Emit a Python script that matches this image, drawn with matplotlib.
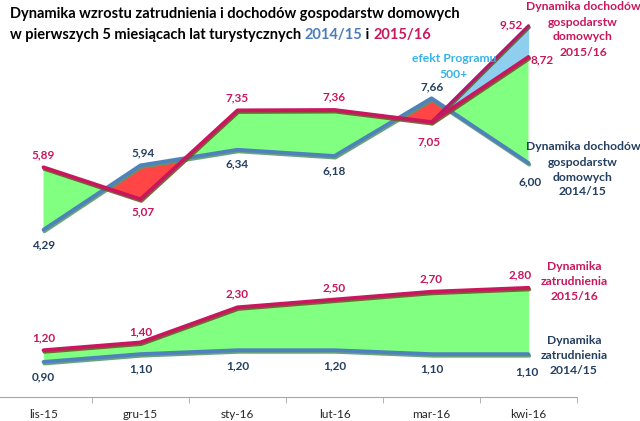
import matplotlib.pyplot as plt
import matplotlib.patheffects as pe
import numpy as np

plt.rcParams['font.family'] = ['Lato', 'DejaVu Sans']

# Data
months = ['lis-15', 'gru-15', 'sty-16', 'lut-16', 'mar-16', 'kwi-16']
income_1516 = [5.89, 5.07, 7.35, 7.36, 7.05, 8.72]
income_1415 = [4.29, 5.94, 6.34, 6.18, 7.66, 6.00]
income_500 = [7.05, 9.52]          # mar-16, kwi-16 incl. "500+" effect
empl_1516 = [1.20, 1.40, 2.30, 2.50, 2.70, 2.80]
empl_1415 = [0.90, 1.10, 1.20, 1.20, 1.10, 1.10]

# Colours
RED = '#c8175d'
PURPLE = '#b01a6e'
BLUE = '#4f81bd'
NAVY = '#243f60'
GREEN_FILL = '#80ff80'
RED_FILL = '#ff4545'
SKY_FILL = '#8ecff0'
SKY_TEXT = '#37b3e6'

fig = plt.figure(figsize=(6.4, 4.21), dpi=100)
ax = fig.add_axes([-5 / 640, 24 / 421, 582 / 640, 396 / 421])
ax.set_xlim(-0.5, 5.5)
ax.set_ylim(0, 396 / 39)

x = np.arange(len(months))
r = np.array(income_1516)
b = np.array(income_1415)

# fills
ax.fill_between(x, b, r, where=r >= b, interpolate=True, color=GREEN_FILL, lw=0)
ax.fill_between(x, b, r, where=r <= b, interpolate=True, color=RED_FILL, lw=0)
ax.fill_between(x[4:], r[4:], income_500, color=SKY_FILL, lw=0)
ax.fill_between(x, empl_1415, empl_1516, color=GREEN_FILL, lw=0)

red_fx = [pe.SimpleLineShadow(offset=(0.6, -1.2), shadow_color='#6b5a2a', alpha=0.9), pe.Normal()]
blue_fx = [pe.SimpleLineShadow(offset=(0.6, -1.2), shadow_color='#5a9a6a', alpha=0.9), pe.Normal()]

line_kw = dict(lw=2.7, solid_capstyle='round', solid_joinstyle='round')
ax.plot(x, income_1415, color=BLUE, path_effects=blue_fx, **line_kw)
ax.plot(x, empl_1415, color=BLUE, path_effects=blue_fx, **line_kw)
ax.plot(x[4:], income_500, color=PURPLE, lw=2.2, solid_capstyle='round', path_effects=red_fx)
ax.plot(x, income_1516, color=RED, path_effects=red_fx, **line_kw)
ax.plot(x, empl_1516, color=RED, path_effects=red_fx, **line_kw)


def fmt(v):
    return f'{v:.2f}'.replace('.', ',')


def label(xs, vals, offsets, color, ha='center'):
    for xi, v, (dx, dy) in zip(xs, vals, offsets):
        ax.annotate(fmt(v), (xi, v), xytext=(dx, dy), textcoords='offset pixels',
                    ha=ha, va='center', color=color, fontsize=8.5, fontweight='bold')


# value labels (pixel offsets)
label(x[:5], income_1516[:5], [(0, 12), (2, -13), (0, 13), (0, 13), (-2, -20)], RED)
label(x[5:], income_1516[5:], [(2, -3)], RED, ha='left')
label(x[5:], income_500[1:], [(-6, 1)], RED, ha='right')
label(x, income_1415, [(0, -15), (3, 12), (0, -14), (0, -15), (1, 11), (2, -19)], NAVY)
label(x, empl_1516, [(0, 12), (0, 11), (0, 13), (0, 12), (0, 13), (-8, 13)], RED)
label(x, empl_1415, [(0, -15), (0, -15), (0, -16), (0, -16), (0, -15), (-2, -18)], NAVY)

# axis styling
for s in ['left', 'top', 'right']:
    ax.spines[s].set_visible(False)
ax.spines['bottom'].set_color('#a6a6a6')
ax.set_yticks([])
ax.set_xticks(x)
ax.set_xticklabels(months, fontsize=8.5, color='#262626')
ax.set_xticks(np.arange(-0.5, 6, 1), minor=True)
ax.tick_params(axis='x', which='major', length=0, pad=9)
ax.tick_params(axis='x', which='minor', length=4, color='#a6a6a6')


def ftext(px, py, s, **kw):
    return fig.text(px / 640, 1 - py / 421, s, **kw)


def block(px, py, lines, color, step=15, size=8.7):
    # one text per line, centred, 'py' = centre of first line
    for i, s in enumerate(lines):
        ftext(px, py + i * step, s, ha='center', va='center', fontsize=size,
              fontweight='bold', color=color)


# series annotations
block(583, 7, ['Dynamika dochodów', 'gospodarstw', 'domowych', '2015/16'], RED)
block(454, 59, ['efekt Programu', '500+'], SKY_TEXT, step=16)
block(583, 147, ['Dynamika dochodów', 'gospodarstw', 'domowych', '2014/15'], NAVY)
block(574, 267, ['Dynamika', 'zatrudnienia', '2015/16'], RED, step=14.5)
block(574, 341, ['Dynamika', 'zatrudnienia', '2014/15'], NAVY, step=14.5)

# title
tkw = dict(fontsize=10.5, fontweight='bold', va='center')
ftext(10, 14, 'Dynamika wzrostu zatrudnienia i dochodów gospodarstw domowych', color='black', **tkw)
t1 = ftext(10, 35, 'w pierwszych 5 miesiącach lat turystycznych ', color='black', **tkw)
t2 = ax.annotate('2014/15', xy=(1, 0.5), xycoords=t1, ha='left', color='#4a7ebb', **tkw)
t3 = ax.annotate(' i ', xy=(1, 0.5), xycoords=t2, ha='left', color='black', **tkw)
ax.annotate('2015/16', xy=(1, 0.5), xycoords=t3, ha='left', color=RED, **tkw)

fig.savefig('out.png', dpi=100)
